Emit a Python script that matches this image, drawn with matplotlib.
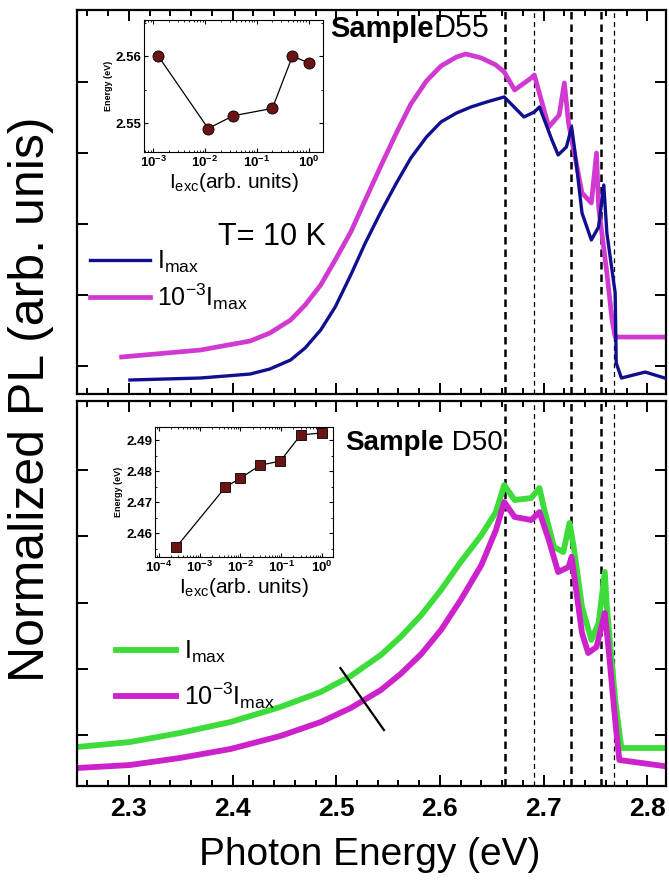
import matplotlib
matplotlib.use('Agg')
import matplotlib.pyplot as plt
from matplotlib.ticker import MultipleLocator, FixedLocator, NullFormatter, LogLocator, FuncFormatter
from matplotlib.lines import Line2D
import numpy as np

plt.rcParams['font.family'] = ['Liberation Sans', 'DejaVu Sans']
plt.rcParams['mathtext.fontset'] = 'custom'
plt.rcParams['mathtext.rm'] = 'Liberation Sans'
plt.rcParams['mathtext.it'] = 'Liberation Sans:italic'
plt.rcParams['mathtext.bf'] = 'Liberation Sans:bold'
plt.rcParams['mathtext.default'] = 'regular'

# --- sample D55, PL spectra at T = 10 K ---
d55_e_imax = [2.301, 2.369, 2.417, 2.436, 2.456, 2.470, 2.485, 2.499, 2.514, 2.528,
              2.543, 2.558, 2.572, 2.587, 2.601, 2.616, 2.630, 2.645, 2.662, 2.681,
              2.691, 2.696, 2.708, 2.714, 2.722, 2.727, 2.730, 2.737, 2.746, 2.753,
              2.758, 2.761, 2.769, 2.770, 2.775, 2.798, 2.823]
d55_pl_imax = [0.803, 0.831, 0.887, 0.958, 1.085, 1.254, 1.507, 1.831, 2.282, 2.732,
               3.169, 3.577, 3.930, 4.225, 4.437, 4.563, 4.648, 4.718, 4.789, 4.507,
               4.577, 4.648, 4.183, 3.972, 4.085, 4.366, 4.042, 3.155, 2.775, 2.958,
               3.549, 2.873, 2.028, 1.042, 0.831, 0.915, 0.803]
d55_e_low = [2.293, 2.369, 2.417, 2.436, 2.456, 2.470, 2.485, 2.499, 2.514, 2.528,
             2.543, 2.558, 2.572, 2.587, 2.601, 2.616, 2.625, 2.640, 2.654, 2.662,
             2.672, 2.688, 2.691, 2.705, 2.715, 2.720, 2.724, 2.737, 2.746, 2.751,
             2.753, 2.761, 2.766, 2.769, 2.823]
d55_pl_low = [1.127, 1.225, 1.352, 1.465, 1.648, 1.859, 2.141, 2.493, 2.887, 3.338,
              3.817, 4.282, 4.690, 5.014, 5.225, 5.352, 5.394, 5.338, 5.239, 5.141,
              4.887, 5.056, 5.099, 4.366, 4.535, 4.986, 4.423, 3.437, 3.296, 4.000,
              3.239, 2.310, 1.648, 1.408, 1.408]

# --- sample D50 ---
d50_e_imax = [2.250, 2.301, 2.349, 2.398, 2.446, 2.485, 2.514, 2.543, 2.562, 2.582,
              2.601, 2.620, 2.640, 2.654, 2.662, 2.672, 2.688, 2.696, 2.700, 2.710,
              2.719, 2.725, 2.729, 2.737, 2.746, 2.753, 2.759, 2.761, 2.769, 2.775,
              2.823]
d50_pl_imax = [0.819, 0.894, 1.030, 1.196, 1.423, 1.649, 1.891, 2.208, 2.479, 2.811,
               3.189, 3.611, 4.019, 4.366, 4.774, 4.547, 4.577, 4.728, 4.442, 3.838,
               3.762, 4.200, 3.838, 2.932, 2.434, 2.691, 3.460, 2.932, 1.528, 0.804,
               0.804]
d50_e_low = [2.250, 2.301, 2.349, 2.398, 2.446, 2.485, 2.514, 2.543, 2.562, 2.582,
             2.601, 2.620, 2.640, 2.654, 2.662, 2.672, 2.688, 2.696, 2.705, 2.714,
             2.724, 2.727, 2.737, 2.743, 2.751, 2.759, 2.763, 2.769, 2.773, 2.823]
d50_pl_low = [0.502, 0.547, 0.653, 0.789, 0.985, 1.196, 1.408, 1.679, 1.921, 2.223,
              2.585, 3.038, 3.566, 4.094, 4.517, 4.291, 4.245, 4.366, 3.943, 3.460,
              3.536, 3.687, 2.540, 2.238, 2.328, 2.842, 2.238, 1.226, 0.623, 0.517]

# guide stroke across the low-energy tail of D50
d50_mark_e = [2.504, 2.546]
d50_mark_pl = [2.011, 1.075]

# excitonic transitions (eV); heavy / light dashes
transitions = [2.663, 2.691, 2.726, 2.755, 2.768]
transition_heavy = [True, False, True, True, False]

# insets: peak energy vs excitation intensity
d55_iexc = [1.25e-3, 1.15e-2, 3.5e-2, 0.2, 0.49, 1.0]
d55_peak = [2.5600, 2.5492, 2.5511, 2.5522, 2.5600, 2.5590]
d50_iexc = [2.7e-4, 4.3e-3, 1.0e-2, 3.1e-2, 9.5e-2, 0.3, 1.0]
d50_peak = [2.4555, 2.4748, 2.4777, 2.4819, 2.4832, 2.4916, 2.4923]

c_blue = '#10108f'
c_mag = '#d03ad0'
c_green = '#3ddc3a'
c_mag2 = '#cc22cc'
c_pt = '#6a1414'

fig = plt.figure(figsize=(6.69, 8.82), dpi=100)
ax1 = fig.add_axes([0.1151, 0.5533, 0.8804, 0.4354])
ax2 = fig.add_axes([0.1151, 0.1088, 0.8804, 0.4366])

for ax in (ax1, ax2):
    ax.set_xlim(2.25, 2.818)
    ax.xaxis.set_major_locator(MultipleLocator(0.1))
    ax.xaxis.set_minor_locator(MultipleLocator(0.02))
    ax.yaxis.set_major_locator(FixedLocator([1, 2, 3, 4, 5]))
    ax.tick_params(which='both', direction='in', top=True, right=True,
                   labelleft=False, width=1.4)
    ax.tick_params(which='major', length=8)
    ax.tick_params(which='minor', length=4)
    for s in ax.spines.values():
        s.set_linewidth(1.6)
    for e, heavy in zip(transitions, transition_heavy):
        ax.axvline(e, color='black', ls=(0, (3, 2)) if heavy else (0, (4, 3)),
                   lw=1.8 if heavy else 0.9, zorder=1)

ax1.set_ylim(0.606, 6.014)
ax2.set_ylim(0.230, 6.042)
ax1.tick_params(labelbottom=False)
ax2.tick_params(axis='x', labelsize=19, pad=8)
for lab in ax2.get_xticklabels():
    lab.set_fontweight('bold')

ax1.plot(d55_e_imax, d55_pl_imax, color=c_blue, lw=2.4, zorder=3)
ax1.plot(d55_e_low, d55_pl_low, color=c_mag, lw=3.4, zorder=2)
ax2.plot(d50_e_imax, d50_pl_imax, color=c_green, lw=4.2, zorder=2)
ax2.plot(d50_e_low, d50_pl_low, color=c_mag2, lw=4.2, zorder=2)
ax2.plot(d50_mark_e, d50_mark_pl, color='black', lw=1.6, zorder=4)

h1 = [Line2D([], [], color=c_blue, lw=2.4), Line2D([], [], color=c_mag, lw=3.4)]
ax1.legend(h1, [r'I$_{\rm max}$', r'10$^{-3}$I$_{\rm max}$'], loc='upper left',
           bbox_to_anchor=(0.0, 0.41), frameon=False, fontsize=18,
           handlelength=2.4, handletextpad=0.3, labelspacing=0.25,
           borderaxespad=0.3, borderpad=0.2)
h2 = [Line2D([], [], color=c_green, lw=4.2), Line2D([], [], color=c_mag2, lw=4.2)]
ax2.legend(h2, [r'I$_{\rm max}$', r'10$^{-3}$I$_{\rm max}$'], loc='upper left',
           bbox_to_anchor=(0.045, 0.415), frameon=False, fontsize=18,
           handlelength=2.4, handletextpad=0.3, labelspacing=0.6,
           borderaxespad=0.3, borderpad=0.2)

# sample names: bold "Sample" followed by the regular-weight id on one baseline
t = ax1.text(0.43, 0.93, 'Sample', transform=ax1.transAxes, fontsize=21,
             fontweight='bold', va='baseline')
ax1.annotate('D55', xy=(1, 0), xycoords=t, xytext=(0, 4.4),
             textcoords='offset points', va='baseline', fontsize=22)
ax1.text(0.239, 0.388, 'T= 10 K', transform=ax1.transAxes, fontsize=22,
         va='baseline')
t = ax2.text(0.455, 0.873, 'Sample', transform=ax2.transAxes, fontsize=20,
             fontweight='bold', va='baseline')
ax2.annotate(' D50', xy=(1, 0), xycoords=t, xytext=(0, 4.2),
             textcoords='offset points', va='baseline', fontsize=20)

fig.text(0.046, 0.547, 'Normalized PL (arb. unis)', rotation=90, ha='center',
         va='center', fontsize=36)
fig.text(0.553, 0.031, 'Photon Energy (eV)', ha='center', va='center',
         fontsize=28)


def pow_label(v, pos):
    return r'$\mathbf{10^{%d}}$' % int(round(np.log10(v)))


def inset(rect, x, y, marker, ms, xlim, ylim, yticks, yminor, ylabels):
    ax = fig.add_axes(rect)
    ax.plot(x, y, color='black', lw=0.9, marker=marker, ms=ms,
            mfc=c_pt, mec='black', mew=0.6)
    ax.set_xscale('log')
    ax.set_xlim(*xlim)
    ax.set_ylim(*ylim)
    ax.xaxis.set_major_locator(LogLocator(base=10, numticks=10))
    ax.xaxis.set_major_formatter(FuncFormatter(pow_label))
    ax.xaxis.set_minor_locator(LogLocator(base=10, subs=np.arange(2, 10),
                                          numticks=10))
    ax.xaxis.set_minor_formatter(NullFormatter())
    ax.yaxis.set_major_locator(FixedLocator(yticks))
    ax.yaxis.set_minor_locator(MultipleLocator(yminor))
    ax.set_yticklabels(ylabels)
    ax.tick_params(which='both', direction='in', top=True, right=True,
                   labelsize=9.5, pad=2)
    ax.tick_params(which='major', length=3)
    ax.tick_params(which='minor', length=1.5)
    for lab in ax.get_yticklabels():
        lab.set_fontweight('bold')
    ax.set_ylabel('Energy (eV)', fontsize=6.5, fontweight='bold', labelpad=2)
    ax.set_xlabel(r'I$_{\rm exc}$(arb. units)', fontsize=15, labelpad=1)
    return ax


inset([0.2152, 0.8277, 0.2676, 0.1497], d55_iexc, d55_peak, 'o', 8,
      (10 ** -3.18, 10 ** 0.28), (2.5457, 2.5654), [2.55, 2.56], 0.005,
      ['2.55', '2.56'])
inset([0.2317, 0.3685, 0.2661, 0.1474], d50_iexc, d50_peak, 's', 6.5,
      (10 ** -4.09, 10 ** 0.27), (2.4523, 2.4942),
      [2.46, 2.47, 2.48, 2.49], 0.005, ['2.46', '2.47', '2.48', '2.49'])

fig.savefig('out.png', dpi=100)
